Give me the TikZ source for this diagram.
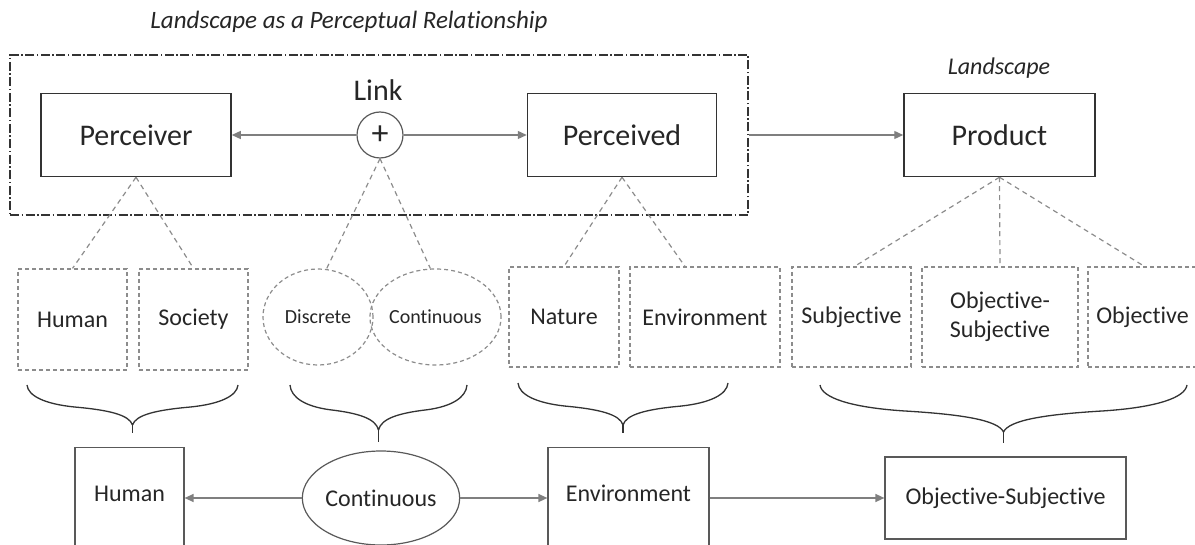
\documentclass[tikz,border=0pt]{standalone}
\usepackage{fontspec}
\setmainfont{Carlito}[Ligatures=NoCommon]
\usetikzlibrary{arrows.meta,shapes.geometric,calc}
\definecolor{txt}{HTML}{262626}
\definecolor{edgetop}{HTML}{333333}
\definecolor{edgelow}{HTML}{595959}
\definecolor{arr}{HTML}{7F7F7F}
\definecolor{dsh}{HTML}{8C8C8C}
\tikzset{
  bigbox/.style={draw=edgetop, line width=1.5pt, rectangle, minimum width=190pt, minimum height=83pt, inner sep=0pt, text=txt, font=\fontsize{30pt}{34pt}\selectfont},
  dbox/.style={draw=dsh, line width=1.2pt, dash pattern=on 4pt off 3pt, rectangle, inner sep=0pt, text=txt, font=\fontsize{24pt}{29pt}\selectfont, align=center},
  dell/.style={draw=dsh, line width=1.2pt, dash pattern=on 4pt off 3pt, ellipse, inner sep=0pt, text=txt, font=\fontsize{20pt}{24pt}\selectfont},
  lowbox/.style={draw=edgelow, line width=1.2pt, rectangle, inner sep=0pt, text=txt, font=\fontsize{24pt}{29pt}\selectfont},
  arrowto/.style={draw=arr, line width=1.3pt, -{Triangle[length=9pt,width=8pt]}},
  dline/.style={draw=dsh, line width=1.2pt, dash pattern=on 5pt off 4pt},
  bracestyle/.style={draw=edgetop, line width=1.3pt, line join=round},
  framebox/.style={draw=edgetop, line width=1.2pt, dash pattern=on 9pt off 2.5pt on 1.5pt off 2.5pt, rectangle, inner sep=0pt},
  lbl/.style={text=txt, inner sep=0pt, font=\fontsize{24pt}{28pt}\selectfont\itshape}
}
\newcommand{\mybrace}[5]{%
  \pgfmathsetmacro{\bxc}{(#1+#2)/2}%
  \pgfmathsetmacro{\bhw}{(#2-#1)/2}%
  \pgfmathsetmacro{\bd}{#4-#3}%
  \draw[bracestyle] (#1,#3)
    .. controls ({#1+0.01*\bhw},{#3+0.275*\bd}) and ({#1+0.17*\bhw},{#3+0.475*\bd}) .. ({#1+0.45*\bhw},{#3+0.55*\bd})
    .. controls ({#1+0.78*\bhw},{#3+0.625*\bd}) and ({\bxc-0.03*\bhw},{#3+0.75*\bd}) .. (\bxc,#4)
    .. controls ({\bxc+0.03*\bhw},{#3+0.75*\bd}) and ({#2-0.78*\bhw},{#3+0.625*\bd}) .. ({#2-0.45*\bhw},{#3+0.55*\bd})
    .. controls ({#2-0.17*\bhw},{#3+0.475*\bd}) and ({#2-0.01*\bhw},{#3+0.275*\bd}) .. (#2,#3);
  \draw[bracestyle] (\bxc,#4) -- (\bxc,#5);
}
\begin{document}
\begin{tikzpicture}[x=1pt,y=-1pt]
\useasboundingbox (0,0) rectangle (1195,545);
\clip (0,0) rectangle (1195,545);
% labels
\node[lbl, font=\fontsize{25pt}{29pt}\selectfont\itshape] (title) at (349,22) {Landscape as a Perceptual Relationship};
\node[lbl] (lsc) at (999,68) {Landscape};
% frame
\node[framebox, minimum width=738pt, minimum height=160pt] (frame) at (379,135) {};
% top row
\node[bigbox] (per) at (136,135) {Perceiver};
\node[draw=edgelow, line width=1.2pt, circle, minimum size=46pt, inner sep=0pt, text=txt, font=\fontsize{34pt}{38pt}\selectfont] (link) at (380,135) {+};
\node[text=txt, inner sep=0pt, font=\fontsize{30pt}{34pt}\selectfont] (linklbl) at (378,90) {Link};
\node[bigbox, minimum width=189pt] (pcd) at (622,135) {Perceived};
\node[bigbox, minimum width=191pt] (prod) at (999.5,135) {Product};
\draw[arrowto] (link.west) -- (per.east);
\draw[arrowto] (link.east) -- (pcd.west);
\draw[arrowto] (frame.east |- pcd.east) -- (prod.west);
% middle row
\node[dbox, minimum width=109pt, minimum height=101pt] (hum) at (72.5,319.5) {Human};
\node[dbox, minimum width=109pt, minimum height=101pt] (soc) at (193.5,319.5) {Society};
\node[dell, minimum width=110pt, minimum height=96pt] (disc) at (318,317) {Discrete};
\node[dell, minimum width=114pt, minimum height=96pt] (cont) at (435.5,317) {Continuous};
\node[dbox, minimum width=110pt, minimum height=100pt] (nat) at (564,317) {Nature};
\node[dbox, minimum width=150pt, minimum height=100pt] (env) at (705,317) {Environment};
\node[dbox, minimum width=119pt, minimum height=100pt] (subj) at (851.5,317) {Subjective};
\node[dbox, minimum width=156pt, minimum height=100pt] (objsubj) at (1000,317) {Objective-\\Subjective};
\node[dbox, minimum width=109pt, minimum height=100pt] (obj) at (1142.5,317) {Objective};
% dashed links
\draw[dline] (per.south) -- (hum.north);
\draw[dline] (per.south) -- (soc.north);
\draw[dline] (link.south) -- (disc.80);
\draw[dline] (link.south) -- (cont.96);
\draw[dline] (pcd.south) -- (nat.north);
\draw[dline] (pcd.south) -- ([xshift=-20pt]env.north);
\draw[dline] (prod.south) -- ([xshift=3pt]subj.north);
\draw[dline] (prod.south) -- (objsubj.north);
\draw[dline] (prod.south) -- ([xshift=2pt]obj.north);
% braces
\mybrace{27}{238}{385}{425}{433}
\mybrace{290}{467}{385}{430}{442}
\mybrace{518}{728}{383}{425}{433}
\mybrace{820}{1187}{385}{432}{443}
% bottom row
\node[lowbox, minimum width=109pt, text height=54pt, text depth=79pt, anchor=north] (humb) at (129.5,447) {Human};
\node[draw=edgelow, line width=1.2pt, ellipse, minimum width=138pt, minimum height=94pt, inner sep=0pt, text=txt, font=\fontsize{24pt}{29pt}\selectfont] (contb) at (381,498) {Continuous};
\node[lowbox, minimum width=161pt, text height=54pt, text depth=79pt, anchor=north] (envb) at (628.5,447) {Environment};
\node[lowbox, minimum width=241pt, minimum height=82pt] (objsubjb) at (1005.5,498) {Objective-Subjective};
\draw[arrowto] (contb.west) -- (contb.west -| humb.east);
\draw[arrowto] (contb.east) -- (contb.east -| envb.west);
\draw[arrowto] (contb.east -| envb.east) -- (objsubjb.west);
\end{tikzpicture}
\end{document}
